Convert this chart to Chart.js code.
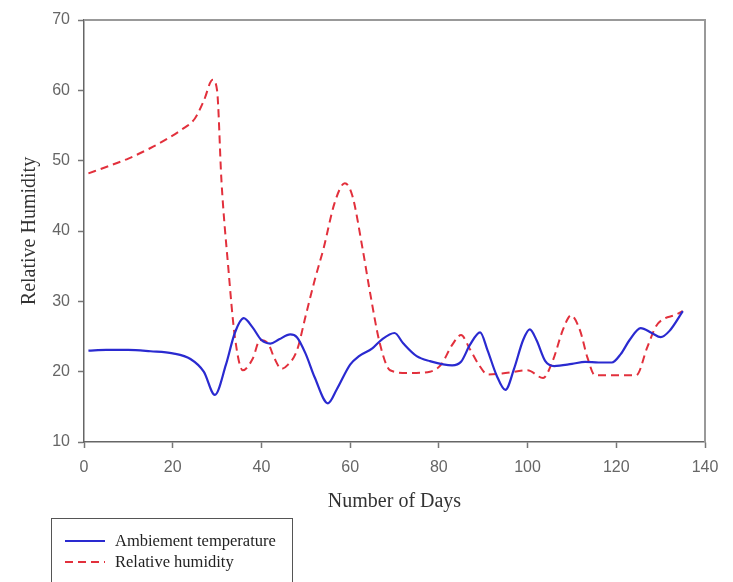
<!DOCTYPE html>
<html>
<head>
<meta charset="utf-8">
<script src="https://cdn.jsdelivr.net/npm/chart.js@4/dist/chart.umd.min.js"></script>
<style>
    html, body { margin: 0; padding: 0; background: #fff; overflow: hidden; }
    #wrap { position: relative; width: 733px; height: 582px; }
    #legend {
        position: absolute; left: 51px; top: 518px; width: 242px; height: 80px;
        border: 1px solid #555; box-sizing: border-box;
        font-family: "Liberation Serif", "Times New Roman", serif; font-size: 16.5px; color: #222;
    }
    .row { position: absolute; left: 13px; height: 20px; display: flex; align-items: center; }
    .row svg { margin-right: 10px; }
</style>
</head>
<body>
<div id="wrap">
    <canvas id="chart" width="733" height="582"></canvas>
    <div id="legend"></div>
</div>
<script>
// Ambient temperature (day, value)
const tempDays = [1, 5, 10, 15, 20, 24, 27, 29.5, 32, 34, 36, 38, 40, 42, 44, 46.5, 48, 50, 52, 55, 57, 60, 62, 65, 67, 70, 72, 75, 78, 83, 85, 87, 89.3, 91, 93, 95, 97, 99, 100.5, 102, 104, 106, 110, 113, 116, 119, 121, 123, 125.5, 128, 130, 132, 135];
const tempValues = [23, 23.1, 23.1, 22.9, 22.6, 21.8, 20, 16.7, 21, 25.5, 27.6, 26.3, 24.5, 24, 24.6, 25.3, 24.9, 22.5, 19.2, 15.5, 17.5, 21, 22.2, 23.3, 24.5, 25.5, 24, 22.2, 21.5, 20.9, 21.4, 23.8, 25.6, 23, 19.5, 17.4, 20.5, 24.5, 26, 24.5, 21.5, 20.8, 21.1, 21.4, 21.3, 21.3, 22.5, 24.5, 26.2, 25.5, 24.9, 25.8, 28.6];

// Relative humidity (day, value)
const humDays = [1, 5, 10, 15, 19, 22, 25, 27, 29, 30, 31, 32.5, 34, 35.8, 38, 39.7, 41.5, 43, 44.5, 46, 48, 50, 52, 54, 56.5, 58.8, 60.5, 62.8, 64.5, 66.7, 69, 73, 78, 80.5, 83, 85, 87, 89, 91, 95, 100, 103.5, 105.7, 108, 109.8, 111.8, 113.5, 115.2, 119, 124.5, 127, 129, 131, 133, 135];
const humValues = [48.2, 49.1, 50.3, 51.8, 53.2, 54.4, 56, 58.5, 61.5, 60, 47, 35, 25, 20.2, 21.8, 24.5, 24, 21.8, 20.4, 21, 23, 28, 33, 37.5, 44, 46.8, 45, 37.5, 31.2, 24, 20.2, 19.8, 20, 21, 23.8, 25.2, 23.2, 21, 19.6, 19.8, 20.2, 19.1, 21.6, 26, 28, 25.9, 22, 19.5, 19.5, 19.5, 23.5, 26.5, 27.6, 28, 28.6];

const xTicks = [0, 20, 40, 60, 80, 100, 120, 140];
const yTicks = [10, 20, 30, 40, 50, 60, 70];

const toPoints = (xs, ys) => xs.map((x, i) => ({ x: x, y: ys[i] }));

const tickFont = { family: "'Liberation Sans', Arial, sans-serif", size: 16 };
const titleFont = { family: "'Liberation Serif', 'Times New Roman', serif", size: 20 };

// grey frame on the top and right of the plot
const framePlugin = {
    id: 'frame',
    afterDraw(chart) {
        const { ctx, chartArea: a } = chart;
        ctx.save();
        ctx.strokeStyle = '#999';
        ctx.lineWidth = 2;
        ctx.beginPath();
        ctx.moveTo(a.left, a.top);
        ctx.lineTo(a.right, a.top);
        ctx.lineTo(a.right, a.bottom);
        ctx.stroke();
        ctx.restore();
    }
};

const chart = new Chart(document.getElementById('chart'), {
    type: 'line',
    data: {
        datasets: [
            {
                label: 'Ambiement temperature',
                data: toPoints(tempDays, tempValues),
                borderColor: '#2a2ad0',
                borderWidth: 2.2,
                pointRadius: 0,
                cubicInterpolationMode: 'monotone',
            },
            {
                label: 'Relative humidity',
                data: toPoints(humDays, humValues),
                borderColor: '#e2303c',
                borderWidth: 2,
                borderDash: [8, 5],
                pointRadius: 0,
                cubicInterpolationMode: 'monotone',
            }
        ]
    },
    options: {
        responsive: false,
        animation: false,
        layout: { padding: { top: 20, right: 28, bottom: 68, left: 0 } },
        plugins: {
            legend: { display: false },
            tooltip: { enabled: false }
        },
        scales: {
            x: {
                type: 'linear',
                min: 0,
                max: 140,
                afterFit: (scale) => { scale.height = 72; },
                afterBuildTicks: (scale) => { scale.ticks = xTicks.map(v => ({ value: v })); },
                ticks: { font: tickFont, color: '#666', padding: 10, maxRotation: 0 },
                grid: { drawOnChartArea: false, tickLength: 6, color: '#777', tickWidth: 1.5 },
                border: { color: '#666', width: 1.5 },
                title: { display: true, text: 'Number of Days', font: titleFont, color: '#333', padding: 0 }
            },
            y: {
                min: 10,
                max: 70,
                afterFit: (scale) => { scale.width = 84; },
                afterBuildTicks: (scale) => { scale.ticks = yTicks.map(v => ({ value: v })); },
                ticks: { font: tickFont, color: '#666', padding: 8 },
                grid: { drawOnChartArea: false, tickLength: 6, color: '#777', tickWidth: 1.5 },
                border: { color: '#666', width: 1.5 },
                title: { display: true, text: 'Relative Humidity', font: titleFont, color: '#333', padding: { top: 18, bottom: 0 } }
            }
        }
    },
    plugins: [framePlugin]
});

// legend box built from the datasets
const legend = document.getElementById('legend');
chart.data.datasets.forEach((ds, i) => {
    const row = document.createElement('div');
    row.className = 'row';
    row.style.top = (12 + i * 21) + 'px';
    const dash = ds.borderDash ? ds.borderDash.join(',') : 'none';
    row.innerHTML = '<svg width="40" height="6"><line x1="0" y1="3" x2="40" y2="3" stroke="' + ds.borderColor +
        '" stroke-width="2" stroke-dasharray="' + dash + '"/></svg><span>' + ds.label + '</span>';
    legend.appendChild(row);
});
</script>
</body>
</html>
